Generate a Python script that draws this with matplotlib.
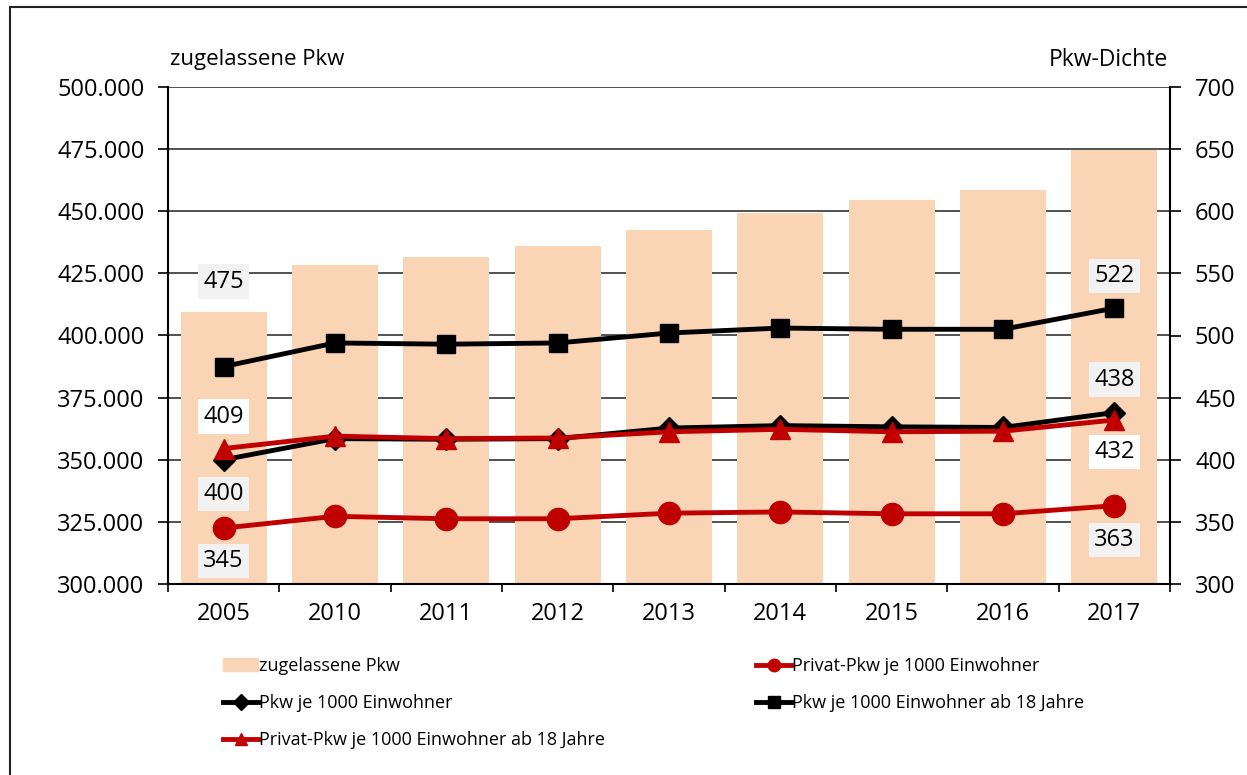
import numpy as np
import matplotlib.pyplot as plt
from matplotlib.lines import Line2D
from matplotlib.patches import Patch, Rectangle

# values
jahre = ['2005', '2010', '2011', '2012', '2013', '2014', '2015', '2016', '2017']
zugelassene_pkw = [409500, 428400, 431700, 436000, 442500, 449400, 454500, 458500, 474800]
pkw_je_1000 = [400, 417, 416.5, 417, 425.5, 427.5, 426.5, 426, 438]
pkw_je_1000_ab18 = [475, 494, 493, 494, 502, 506, 505, 505, 522]
privat_je_1000 = [345, 354.5, 352.5, 352.5, 357, 358, 356.5, 356.5, 363]
privat_je_1000_ab18 = [409, 419, 417, 417.5, 422.5, 424.5, 422.5, 423, 432]

left_ticks = [300000, 325000, 350000, 375000, 400000, 425000, 450000, 475000, 500000]
right_ticks = [300, 350, 400, 450, 500, 550, 600, 650, 700]

bar_col = '#FAD5B5'
red = '#C00000'
font = 'Open Sans'

fig = plt.figure(figsize=(12.47, 7.75), dpi=100)
fig.patches.append(Rectangle((10 / 1247, -0.1), 1.2, 1 - 7 / 775 + 0.1, transform=fig.transFigure,
                             fill=False, edgecolor='#222222', linewidth=1.5))

ax = fig.add_axes([168 / 1247, 1 - 584 / 775, (1170 - 168) / 1247, (584 - 87) / 775])
x = np.arange(len(jahre))
ax.bar(x, zugelassene_pkw, width=0.77, color=bar_col, zorder=2)
ax.set_ylim(300000, 500000)
ax.set_xlim(-0.5, len(jahre) - 0.5)
ax.set_yticks(left_ticks)
ax.set_yticklabels([f'{v:,}'.replace(',', '.') for v in left_ticks], family=font, fontsize=17)
ax.grid(axis='y', color='#333333', linewidth=1.2, zorder=1)
ax.set_axisbelow(True)
ax.set_xticks(x)
ax.set_xticklabels(jahre, family=font, fontsize=17)
ax.set_xticks(np.arange(len(jahre) + 1) - 0.5, minor=True)
ax.tick_params(axis='x', which='major', length=0, pad=13)
ax.tick_params(axis='x', which='minor', length=6, width=1.2)
ax.tick_params(axis='y', length=7, width=1.2, pad=10)
for s in ['top', 'right']:
    ax.spines[s].set_visible(False)
for s in ['left', 'bottom']:
    ax.spines[s].set_linewidth(1.5)

ax2 = ax.twinx()
ax2.set_ylim(300, 700)
ax2.set_yticks(right_ticks)
ax2.set_yticklabels([str(v) for v in right_ticks], family=font, fontsize=17)
ax2.tick_params(axis='y', length=8, width=1.2, pad=10)
for s in ['top', 'left', 'bottom']:
    ax2.spines[s].set_visible(False)
ax2.spines['right'].set_linewidth(1.5)

ax2.plot(x, pkw_je_1000, color='black', lw=3.5, marker='D', ms=11, zorder=3)
ax2.plot(x, pkw_je_1000_ab18, color='black', lw=3.5, marker='s', ms=13, zorder=3)
ax2.plot(x, privat_je_1000, color=red, lw=3.5, marker='o', ms=16, zorder=4)
ax2.plot(x, privat_je_1000_ab18, color=red, lw=3.5, marker='^', ms=15, zorder=4)


def label(i, series, dy, bg):
    ax2.annotate(f'{series[i]:.0f}', (x[i], series[i]), xytext=(0, dy), textcoords='offset pixels',
                 ha='center', va='center', family=font, fontsize=17, zorder=6,
                 bbox=dict(boxstyle='square,pad=0.22', fc=bg, ec='none'))


label(0, pkw_je_1000_ab18, 85, '#F2F2F2')
label(0, privat_je_1000_ab18, 32, 'white')
label(0, pkw_je_1000, -34, '#F2F2F2')
label(0, privat_je_1000, -33, '#F2F2F2')
label(8, pkw_je_1000_ab18, 32, '#F2F2F2')
label(8, pkw_je_1000, 33, '#F2F2F2')
label(8, privat_je_1000_ab18, -32, 'white')
label(8, privat_je_1000, -34, '#F2F2F2')

fig.text(170 / 1247, 1 - 60 / 775, 'zugelassene Pkw', family=font, fontsize=16, ha='left', va='center')
fig.text(1168 / 1247, 1 - 60 / 775, 'Pkw-Dichte', family=font, fontsize=16.5, ha='right', va='center')

h1 = [Patch(color=bar_col),
      Line2D([], [], color='black', lw=3.5, marker='D', ms=8),
      Line2D([], [], color=red, lw=3.5, marker='^', ms=9)]
l1 = ['zugelassene Pkw', 'Pkw je 1000 Einwohner', 'Privat-Pkw je 1000 Einwohner ab 18 Jahre']
h2 = [Line2D([], [], color=red, lw=3.5, marker='o', ms=9),
      Line2D([], [], color='black', lw=3.5, marker='s', ms=8)]
l2 = ['Privat-Pkw je 1000 Einwohner', 'Pkw je 1000 Einwohner ab 18 Jahre']
leg_kw = dict(frameon=False, prop={'family': font, 'size': 13}, handlelength=1.95,
              handletextpad=0.05, labelspacing=1.05, borderpad=0, loc='upper left')
leg1 = fig.legend(h1, l1, bbox_to_anchor=(214 / 1247, 1 - 648 / 775), **leg_kw)
leg2 = fig.legend(h2, l2, bbox_to_anchor=(747 / 1247, 1 - 648 / 775), **leg_kw)

fig.savefig('out.png', dpi=100)
